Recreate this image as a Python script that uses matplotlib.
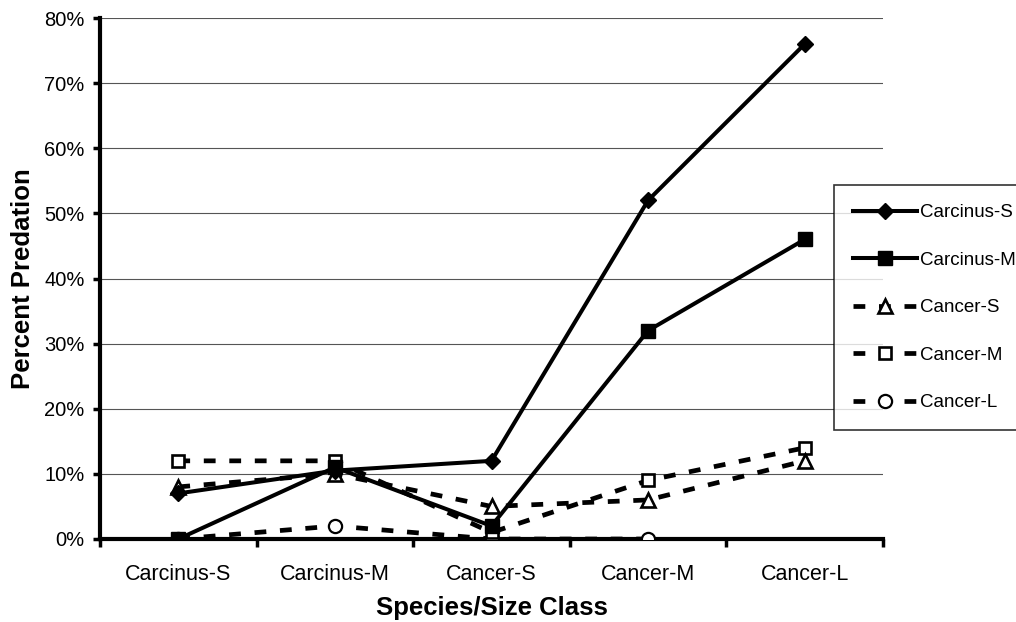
import numpy as np
import matplotlib
matplotlib.use("Agg")
import matplotlib.pyplot as plt
from matplotlib.ticker import FuncFormatter, MultipleLocator

plt.rcParams['font.family'] = ['Liberation Sans', 'DejaVu Sans']

categories = ["Carcinus-S", "Carcinus-M", "Cancer-S", "Cancer-M", "Cancer-L"]
carcinus_s = [7, 10.5, 12, 52, 76]
carcinus_m = [0, 11, 2, 32, 46]
cancer_s = [8, 10, 5, 6, 12]
cancer_m = [12, 12, 1, 9, 14]
cancer_l = [0, 2, 0, 0, np.nan]

fig = plt.figure(figsize=(10.16, 6.22), dpi=100)
ax = fig.add_axes([100/1016, 1-539/622, 783/1016, (539-18)/622])

x = np.arange(len(categories))
dash = (0, (2.5, 2.9))
ax.plot(x, cancer_l, color='black', lw=3.4, ls=dash, marker='o', ms=9.5,
        mfc='white', mec='black', mew=1.6, label='Cancer-L', zorder=3)
ax.plot(x, cancer_m, color='black', lw=3.4, ls=dash, marker='s', ms=9,
        mfc='white', mec='black', mew=1.9, label='Cancer-M', zorder=3)
ax.plot(x, cancer_s, color='black', lw=3.4, ls=dash, marker='^', ms=10,
        mfc='white', mec='black', mew=1.9, label='Cancer-S', zorder=3)
ax.plot(x, carcinus_m, color='black', lw=2.9, ls='-', marker='s', ms=10,
        mfc='black', mec='black', label='Carcinus-M', zorder=4)
ax.plot(x, carcinus_s, color='black', lw=2.9, ls='-', marker='D', ms=8,
        mfc='black', mec='black', label='Carcinus-S', zorder=4)

ax.set_xlim(-0.5, 4.5)
ax.set_ylim(0, 80)
ax.yaxis.set_major_locator(MultipleLocator(10))
ax.yaxis.set_major_formatter(FuncFormatter(lambda v, p: f"{int(round(v))}%"))
ax.set_xticks(x)
ax.set_xticklabels(categories)
ax.set_xticks(np.arange(-0.5, 4.6, 1), minor=True)
ax.tick_params(axis='x', which='major', length=0, labelsize=15.5, pad=18)
ax.tick_params(axis='x', which='minor', length=6, width=2.5, direction='out')
ax.tick_params(axis='y', length=5, width=2.5, direction='out', labelsize=14.5, pad=6)
ax.grid(axis='y', color='#555555', lw=0.8)
ax.set_axisbelow(True)
for s in ['top', 'right']:
    ax.spines[s].set_visible(False)
for s in ['left', 'bottom']:
    ax.spines[s].set_linewidth(3)
ax.spines['bottom'].set_zorder(2.5)

ax.set_xlabel("Species/Size Class", fontsize=18.5, fontweight='bold', labelpad=8)
ax.set_ylabel("Percent Predation", fontsize=18.5, fontweight='bold', labelpad=7)

h, l = ax.get_legend_handles_labels()
order = [4, 3, 2, 1, 0]
leg = fig.legend([h[i] for i in order], [l[i] for i in order],
                 loc='upper left', bbox_to_anchor=(834/1016, 1-185/622),
                 frameon=True, fancybox=False, edgecolor='black', fontsize=13.5,
                 handlelength=3.4, handletextpad=0.15, labelspacing=1.62,
                 borderpad=1.02, borderaxespad=0)
leg.get_frame().set_linewidth(1.2)

fig.savefig("out.png", dpi=100)
